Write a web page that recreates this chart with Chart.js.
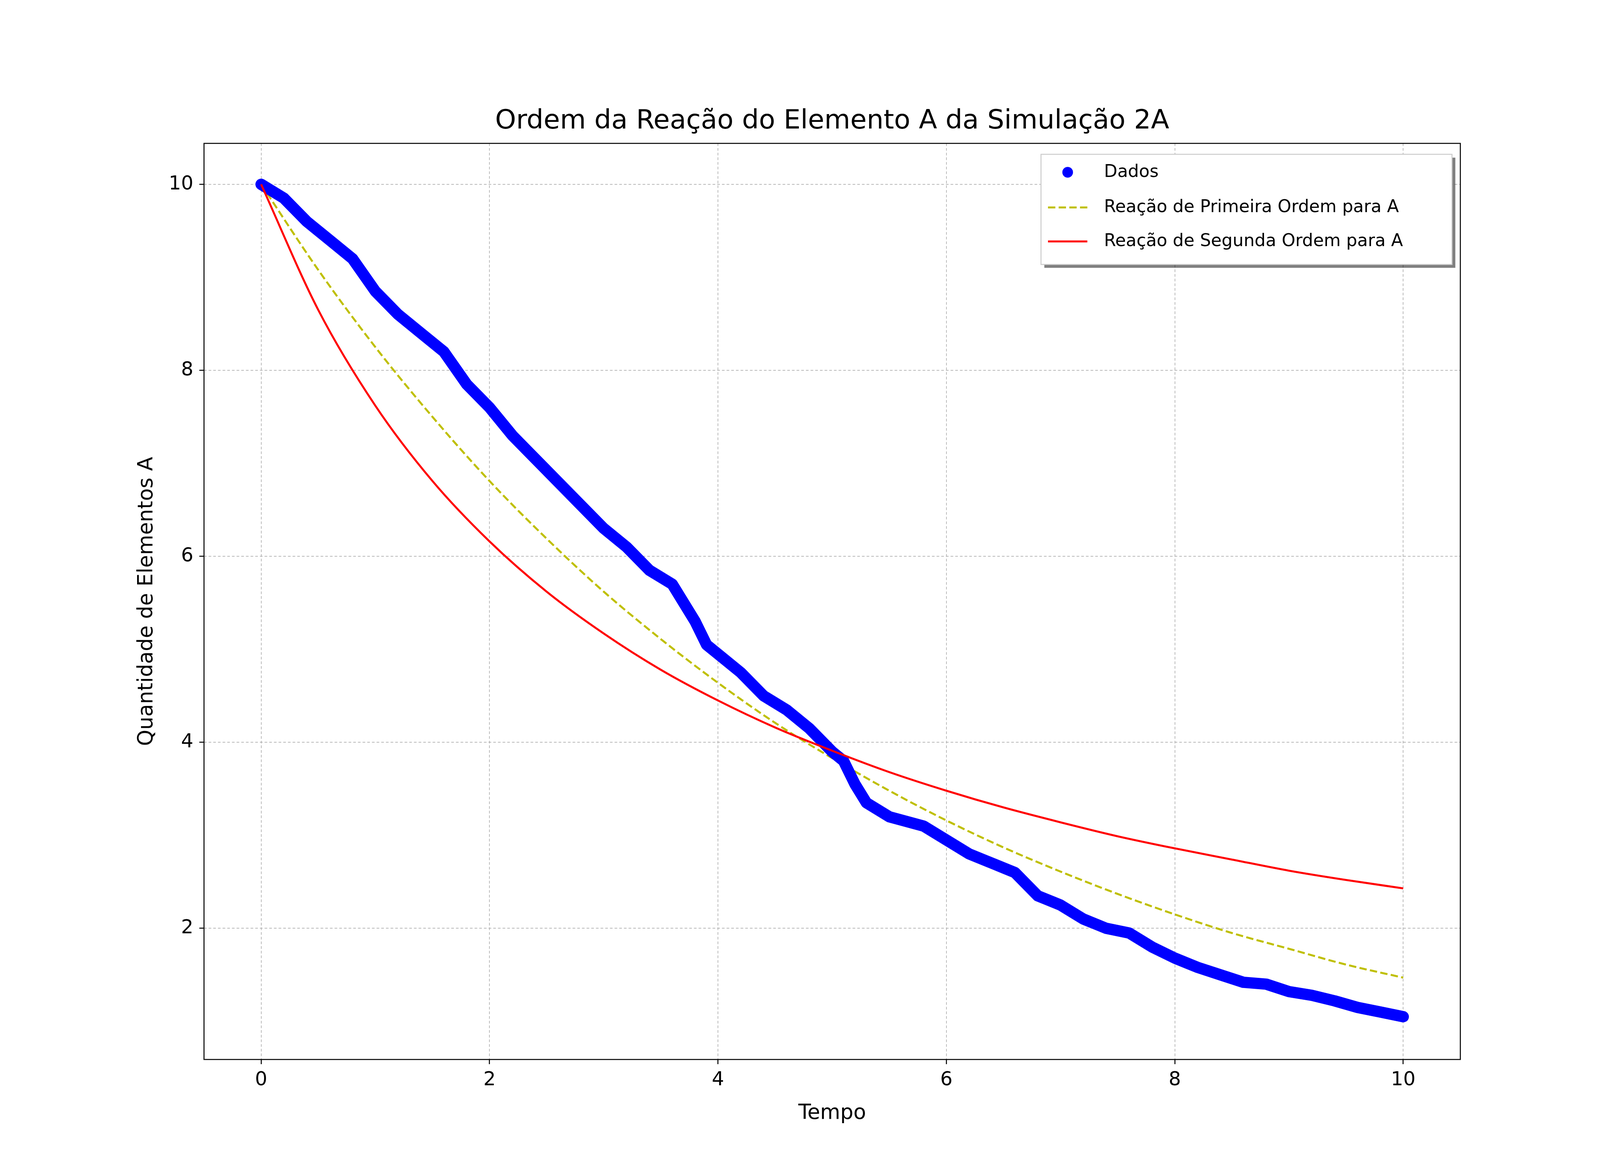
<!DOCTYPE html>
<html>
<head>
<meta charset="utf-8">
<script src="https://cdn.jsdelivr.net/npm/chart.js@4"></script>
<style>
  html, body { margin: 0; padding: 0; background: #fff; overflow: hidden; }
  #wrap { width: 100vw; height: 100vh; }
</style>
</head>
<body>
<div id="wrap"><canvas id="chart"></canvas></div>
<script>
// dados
const tempoDados = [0, 0.2, 0.4, 0.6, 0.8, 1.0, 1.2, 1.4, 1.6, 1.8, 2.0, 2.2, 2.4, 2.6, 2.8, 3.0, 3.2, 3.4, 3.6, 3.8, 3.9, 4.0, 4.2, 4.4, 4.6, 4.8, 5.0, 5.1, 5.2, 5.3, 5.5, 5.8, 6.0, 6.2, 6.4, 6.6, 6.8, 7.0, 7.2, 7.4, 7.6, 7.8, 8.0, 8.2, 8.4, 8.6, 8.8, 9.0, 9.2, 9.4, 9.6, 9.8, 10];
const valoresDados = [10, 9.85, 9.6, 9.4, 9.2, 8.85, 8.6, 8.4, 8.2, 7.85, 7.6, 7.3, 7.05, 6.8, 6.55, 6.3, 6.1, 5.85, 5.7, 5.3, 5.05, 4.95, 4.75, 4.5, 4.35, 4.15, 3.9, 3.8, 3.55, 3.35, 3.2, 3.1, 2.95, 2.8, 2.7, 2.6, 2.35, 2.25, 2.1, 2.0, 1.95, 1.8, 1.68, 1.58, 1.5, 1.42, 1.4, 1.32, 1.28, 1.22, 1.15, 1.1, 1.05];

const tempoCurvas = [0, 0.5, 1, 1.5, 2, 2.5, 3, 3.5, 4, 4.5, 5, 5.5, 6, 6.5, 7, 7.5, 8, 8.5, 9, 9.5, 10];
const primeiraOrdem = [10, 9.08, 8.25, 7.50, 6.81, 6.19, 5.62, 5.11, 4.64, 4.21, 3.83, 3.48, 3.16, 2.87, 2.61, 2.37, 2.15, 1.95, 1.78, 1.61, 1.47];
const segundaOrdem = [10, 8.65, 7.62, 6.81, 6.16, 5.62, 5.17, 4.78, 4.45, 4.16, 3.91, 3.68, 3.48, 3.30, 3.14, 2.99, 2.86, 2.74, 2.62, 2.52, 2.43];

const xTicks = [0, 2, 4, 6, 8, 10];
const yTicks = [2, 4, 6, 8, 10];

const FONT = '"DejaVu Sans", sans-serif';

// escala relativa ao tamanho da janela (referência 4800x3000)
const W = window.innerWidth, H = window.innerHeight;
const sx = W / 4800, sy = H / 3000, s = Math.min(sx, sy);

function pares(xs, ys) {
    return xs.map((x, i) => ({ x: x, y: ys[i] }));
}

// título, rótulos dos eixos, moldura e legenda
const extras = {
    id: 'extras',
    afterDraw(chart) {
        const ctx = chart.ctx;
        const a = chart.chartArea;
        ctx.save();
        ctx.strokeStyle = '#000';
        ctx.lineWidth = 3 * s;
        ctx.strokeRect(a.left, a.top, a.right - a.left, a.bottom - a.top);

        ctx.fillStyle = '#000';
        ctx.textAlign = 'center';
        ctx.textBaseline = 'middle';
        ctx.font = (80 * s) + 'px ' + FONT;
        ctx.fillText('Ordem da Reação do Elemento A da Simulação 2A', (a.left + a.right) / 2, 311 * sy);
        ctx.font = (62 * s) + 'px ' + FONT;
        ctx.fillText('Tempo', (a.left + a.right) / 2, 2850 * sy);
        ctx.translate(441 * sx, (a.top + a.bottom) / 2);
        ctx.rotate(-Math.PI / 2);
        ctx.fillText('Quantidade de Elementos A', 0, 0);
        ctx.restore();

        // legenda
        ctx.save();
        const bx = 3123 * sx, by = 395 * sy, bw = 1233 * sx, bh = 282 * sy;
        ctx.fillStyle = 'rgba(0,0,0,0.5)';
        ctx.fillRect(bx + 10 * s, by + 10 * s, bw, bh);
        ctx.fillStyle = '#fff';
        ctx.fillRect(bx, by, bw, bh);
        ctx.strokeStyle = '#ccc';
        ctx.lineWidth = 3 * s;
        ctx.strokeRect(bx, by, bw, bh);
        const rows = [441 * sy, 531 * sy, 618 * sy];
        const l0 = 3144 * sx, l1 = 3262 * sx, tx = 3312 * sx;
        ctx.fillStyle = '#0000ff';
        ctx.beginPath();
        ctx.arc((l0 + l1) / 2, rows[0], 16 * s, 0, Math.PI * 2);
        ctx.fill();
        ctx.lineWidth = 6 * s;
        ctx.strokeStyle = '#bfbf00';
        ctx.setLineDash([22 * s, 10 * s]);
        ctx.beginPath(); ctx.moveTo(l0, rows[1]); ctx.lineTo(l1, rows[1]); ctx.stroke();
        ctx.setLineDash([]);
        ctx.strokeStyle = '#ff0000';
        ctx.beginPath(); ctx.moveTo(l0, rows[2]); ctx.lineTo(l1, rows[2]); ctx.stroke();
        ctx.fillStyle = '#000';
        ctx.font = (52 * s) + 'px ' + FONT;
        ctx.textAlign = 'left';
        ctx.textBaseline = 'middle';
        ctx.fillText('Dados', tx, rows[0]);
        ctx.fillText('Reação de Primeira Ordem para A', tx, rows[1]);
        ctx.fillText('Reação de Segunda Ordem para A', tx, rows[2]);
        ctx.restore();
    }
};

const gridOpts = { color: '#b0b0b0', lineWidth: 2 * s, tickLength: 14 * s, tickColor: '#000', tickWidth: 3 * s, tickBorderDash: [] };

new Chart(document.getElementById('chart'), {
    type: 'scatter',
    data: {
        datasets: [
            {
                label: 'Dados',
                data: pares(tempoDados, valoresDados),
                showLine: true,
                borderColor: '#0000ff',
                backgroundColor: '#0000ff',
                borderWidth: 34 * s,
                borderCapStyle: 'round',
                borderJoinStyle: 'round',
                pointRadius: 0,
                order: 1
            },
            {
                label: 'Reação de Primeira Ordem para A',
                data: pares(tempoCurvas, primeiraOrdem),
                showLine: true,
                borderColor: '#bfbf00',
                borderWidth: 6 * s,
                borderDash: [22 * s, 10 * s],
                cubicInterpolationMode: 'monotone',
                pointRadius: 0,
                order: 2
            },
            {
                label: 'Reação de Segunda Ordem para A',
                data: pares(tempoCurvas, segundaOrdem),
                showLine: true,
                borderColor: '#ff0000',
                borderWidth: 6 * s,
                cubicInterpolationMode: 'monotone',
                pointRadius: 0,
                order: 0
            }
        ]
    },
    options: {
        responsive: true,
        maintainAspectRatio: false,
        animation: false,
        layout: { padding: { left: 0, right: 419 * sx, top: 367 * sy, bottom: 0 } },
        plugins: { legend: { display: false }, title: { display: false }, tooltip: { enabled: false } },
        scales: {
            x: {
                type: 'linear',
                min: -0.5,
                max: 10.5,
                afterBuildTicks: sc => { sc.ticks = xTicks.map(v => ({ value: v })); },
                afterFit: sc => { sc.height = 288 * sy; },
                border: { display: false, dash: [8 * s, 6 * s] },
                grid: gridOpts,
                ticks: { color: '#000', font: { family: FONT, size: 58 * s }, padding: 14 * s }
            },
            y: {
                min: 0.59,
                max: 10.44,
                afterBuildTicks: sc => { sc.ticks = yTicks.map(v => ({ value: v })); },
                afterFit: sc => { sc.width = 612 * sx; },
                border: { display: false, dash: [8 * s, 6 * s] },
                grid: gridOpts,
                ticks: { color: '#000', font: { family: FONT, size: 58 * s }, padding: 18 * s }
            }
        }
    },
    plugins: [extras]
});
</script>
</body>
</html>
